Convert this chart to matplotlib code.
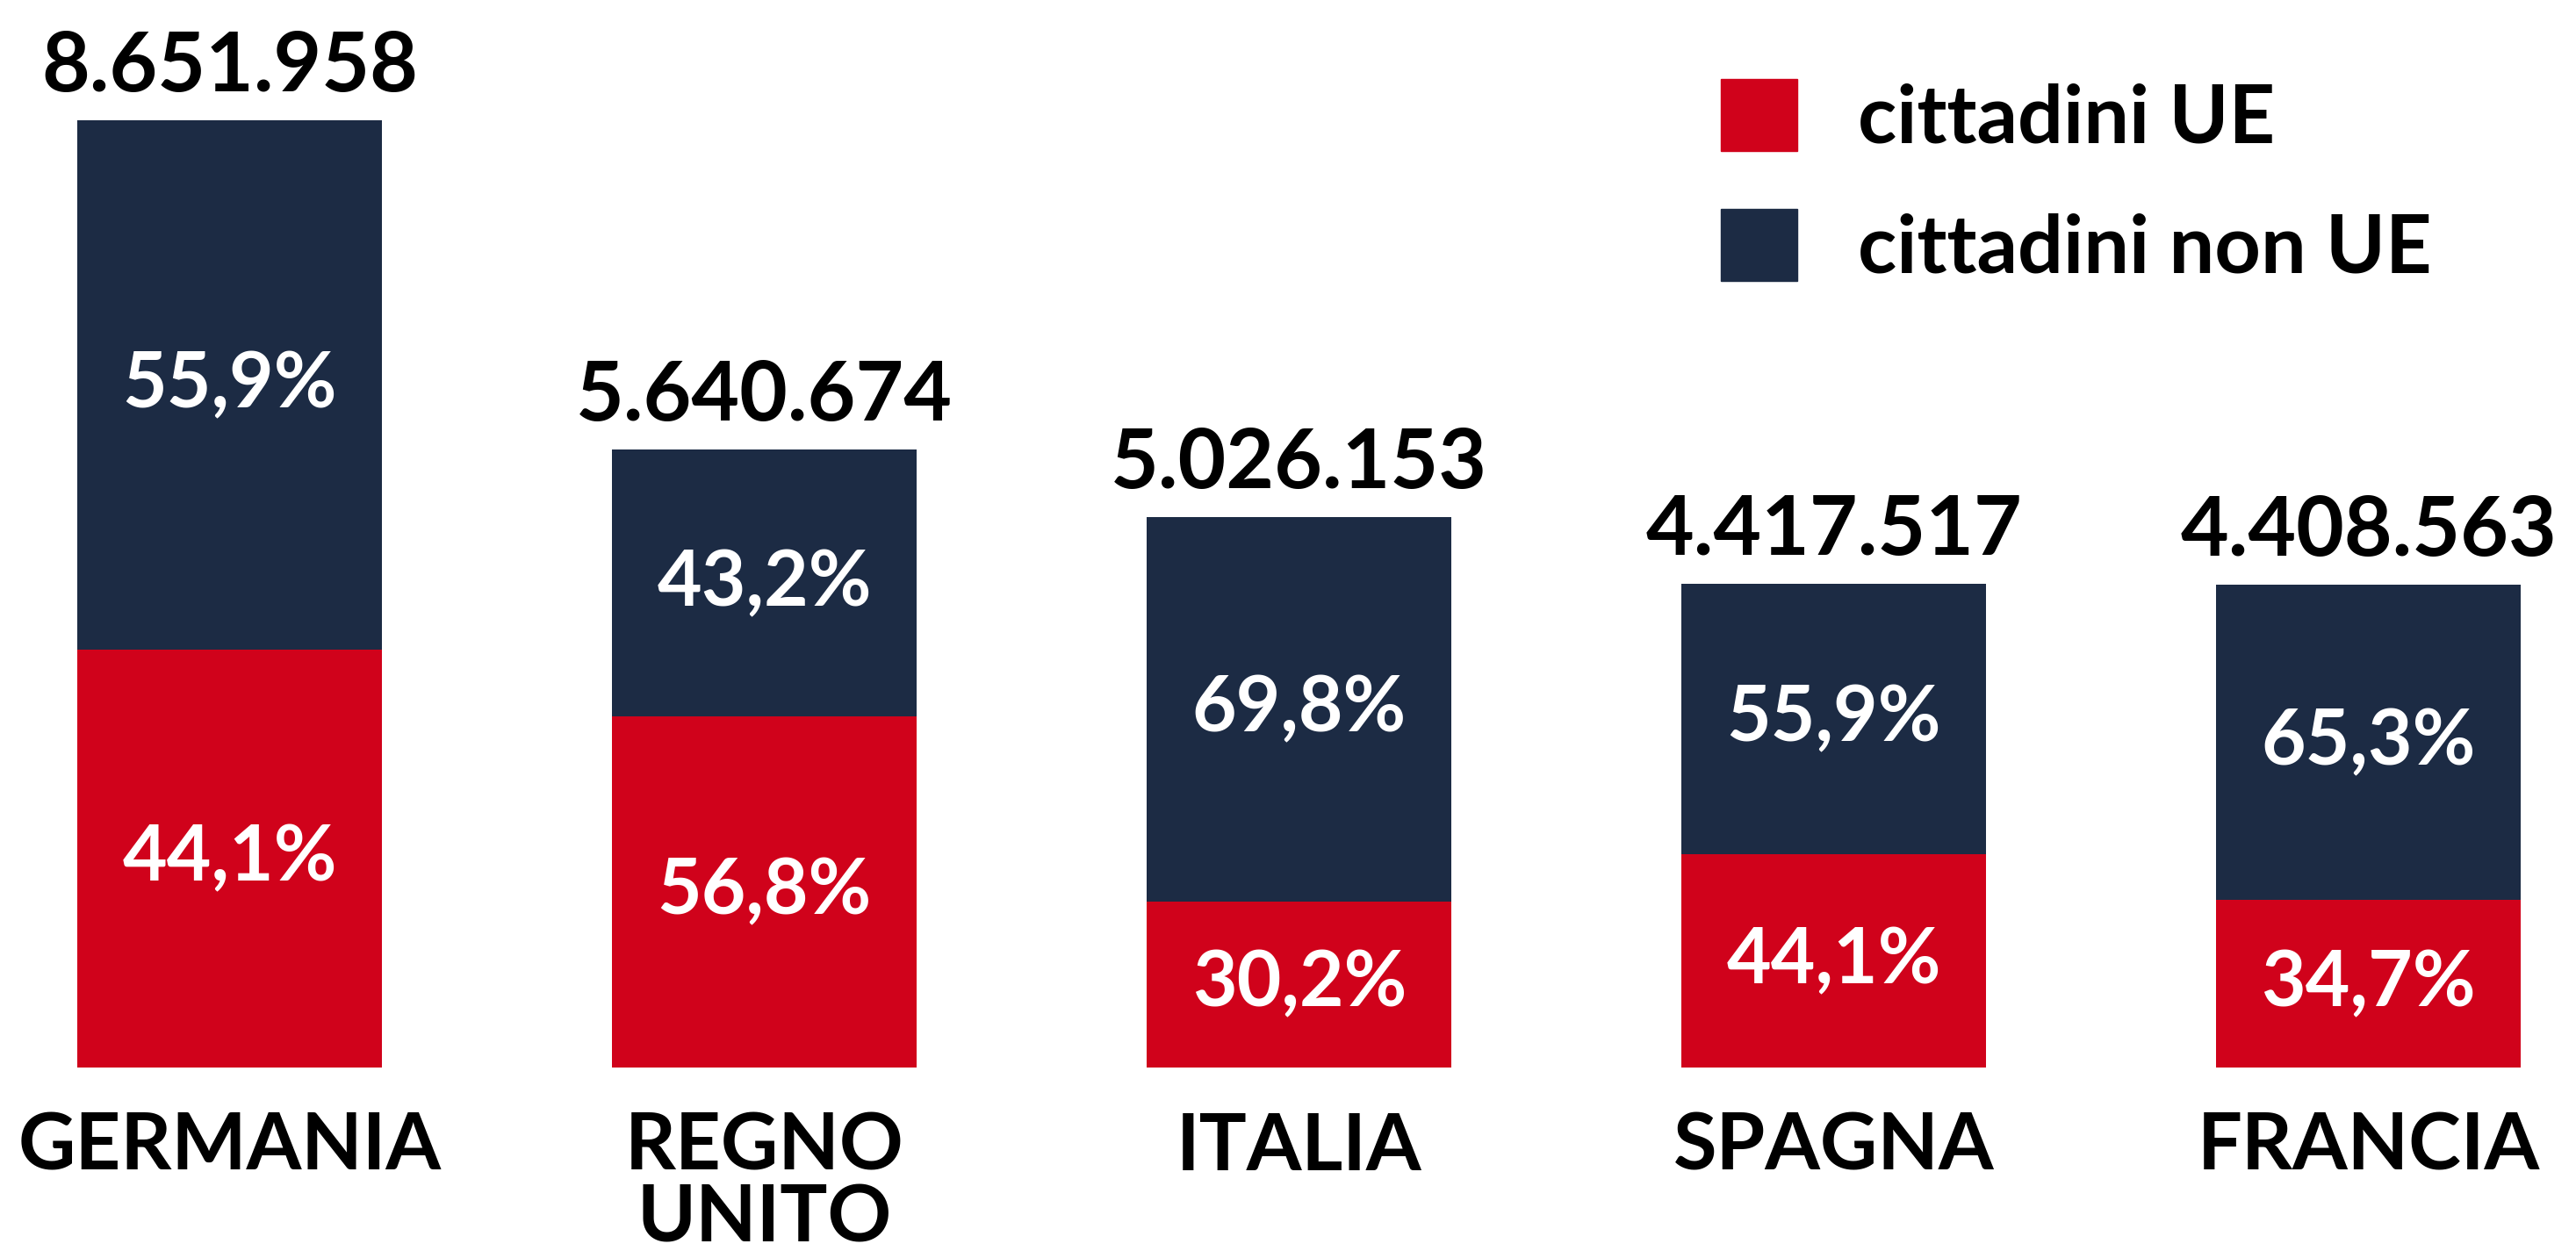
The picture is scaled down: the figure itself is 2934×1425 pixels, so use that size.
import matplotlib.pyplot as plt
import numpy as np
from matplotlib.patches import Patch

# dati
paesi = ['GERMANIA', 'REGNO\nUNITO', 'ITALIA', 'SPAGNA', 'FRANCIA']
totali = [8651958, 5640674, 5026153, 4417517, 4408563]
quota_ue = [44.1, 56.8, 30.2, 44.1, 34.7]
quota_non_ue = [55.9, 43.2, 69.8, 55.9, 65.3]

rosso = '#D0021B'
blu = '#1C2B44'

tot = np.array(totali, dtype=float)
ue = tot * np.array(quota_ue) / 100
non_ue = tot - ue
x = np.arange(len(paesi))

fig = plt.figure(figsize=(29.34, 14.25), dpi=100)
ax = fig.add_axes([0, 0, 1, 1])

ax.bar(x, ue, width=0.57, color=rosso)
ax.bar(x, non_ue, width=0.57, bottom=ue, color=blu)

def fmt_it(v):
    return f'{v:,}'.replace(',', '.')

def fmt_pct(v):
    return f'{v:.1f}%'.replace('.', ',')

for i in range(len(paesi)):
    ax.text(x[i], ue[i] / 2, fmt_pct(quota_ue[i]), color='white', ha='center', va='center',
            fontsize=63, family='Lato', fontweight='bold')
    ax.text(x[i], ue[i] + non_ue[i] / 2, fmt_pct(quota_non_ue[i]), color='white', ha='center',
            va='center', fontsize=63, family='Lato', fontweight='bold')
    ax.annotate(fmt_it(totali[i]), (x[i], tot[i]), xytext=(0, 24), textcoords='offset points',
                ha='center', va='baseline', fontsize=68, family='Lato', fontweight='bold')
    # nome del paese sotto la barra
    ax.annotate(paesi[i], (x[i], 0), xytext=(0, -36), textcoords='offset points',
                ha='center', va='top', fontsize=65, family='Lato', fontweight='bold',
                linespacing=1.0)

ax.set_xticks([])
ax.set_yticks([])
for s in ax.spines.values():
    s.set_visible(False)

ax.set_xlim(-0.43, 4.388)
ax.set_ylim(-1.676e6, 9.75e6)

handles = [Patch(color=rosso), Patch(color=blu)]
ax.legend(handles, ['cittadini UE', 'cittadini non UE'], loc='upper left',
          bbox_to_anchor=(0.64, 0.995), frameon=False,
          prop={'family': 'Lato', 'weight': 'bold', 'size': 66},
          handlelength=0.95, handleheight=1.0, labelspacing=0.65, handletextpad=0.75)

fig.savefig('out.png', dpi=100, facecolor='white')
